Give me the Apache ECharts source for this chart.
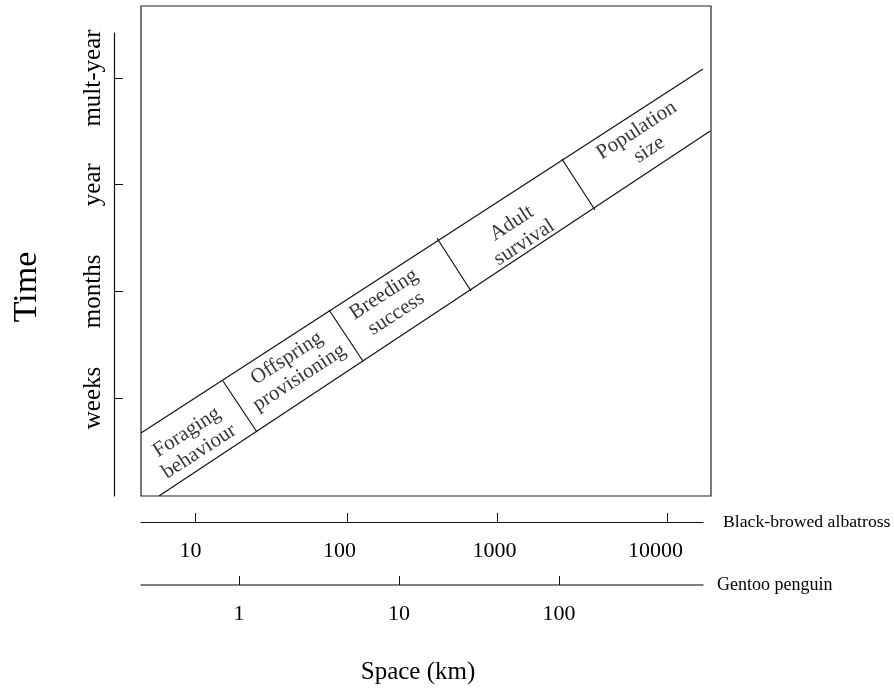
<!DOCTYPE html>
<html>
<head>
<meta charset="utf-8">
<script src="https://cdn.jsdelivr.net/npm/echarts@6/dist/echarts.min.js"></script>
<style>
  html, body { margin: 0; padding: 0; background: #fff; }
  #chart { width: 894px; height: 690px; }
</style>
</head>
<body>
<div id="chart"></div>
<script>
// Albatross space scale: log10(km), Gentoo space scale: log10(km), time: ordinal level
var albatrossLabels = ["10", "100", "1000", "10000"];
var albatrossLabelPos = [0.97, 1.95, 2.97, 4.03];
var albatrossTickPos = [1, 2, 2.99, 4.11];

var gentooLabels = ["1", "10", "100"];
var gentooPos = [0, 1, 2];

var timeLabels = ["weeks", "months", "year", "mult-year"];
var timePos = [1, 2, 3, 4];

// band edges, in (albatross log10 km, time level)
var upperEdge = [[0.645, 0.672], [4.342, 4.084]];
var lowerEdge = [[0.763, 0.081], [4.39, 3.503]];
var dividers = [
  [[1.184, 1.159], [1.408, 0.681]],
  [[1.882, 1.825], [2.105, 1.347]],
  [[2.592, 2.5], [2.816, 2.003]],
  [[3.414, 3.241], [3.632, 2.762]]
];

var bandNames = [
  "Foraging\nbehaviour",
  "Offspring\nprovisioning",
  "Breeding\nsuccess",
  "Adult\nsurvival",
  "Population\nsize"
];
var bandCenters = [
  [0.987, 0.588],
  [1.645, 1.281],
  [2.283, 1.881],
  [3.125, 2.547],
  [3.947, 3.419]
];

var FONT = "Liberation Serif";
var LINE = "#111";

var myChart = echarts.init(document.getElementById("chart"));

var edgeSeries = [upperEdge, lowerEdge].concat(dividers).map(function (pts) {
  return {
    type: "line",
    xAxisIndex: 0,
    yAxisIndex: 0,
    data: pts,
    symbol: "none",
    silent: true,
    lineStyle: { color: LINE, width: 1.2 }
  };
});

var option = {
  animation: false,
  backgroundColor: "#fff",
  grid: [
    // main box
    { left: 141, top: 6, right: 183, bottom: 194, show: true, borderColor: "#222", borderWidth: 1.2, outerBoundsMode: "none" },
    // albatross axis
    { left: 141, right: 191, top: 500, height: 22, outerBoundsMode: "none" },
    // gentoo axis
    { left: 141, right: 191, top: 560, height: 25, outerBoundsMode: "none" },
    // time axis
    { left: 114, top: 33, width: 10, bottom: 194, outerBoundsMode: "none" }
  ],
  xAxis: [
    { gridIndex: 0, type: "value", min: 0.645, max: 4.395, show: false },
    {
      gridIndex: 1, type: "value", min: 0.645, max: 4.342, position: "bottom",
      splitLine: { show: false },
      axisLine: { lineStyle: { color: LINE, width: 1.2 } },
      axisTick: { inside: true, length: 9, customValues: albatrossTickPos, lineStyle: { color: LINE } },
      axisLabel: {
        customValues: albatrossLabelPos, margin: 18,
        fontFamily: FONT, fontSize: 22, color: "#000",
        formatter: function (v) { return albatrossLabels[albatrossLabelPos.indexOf(v)]; }
      },
      name: "Black-browed albatross", nameLocation: "end", nameGap: 20,
      nameTextStyle: { fontFamily: FONT, fontSize: 17.7, color: "#000" }
    },
    {
      gridIndex: 2, type: "value", min: -0.6125, max: 2.9, position: "bottom",
      splitLine: { show: false },
      axisLine: { lineStyle: { color: "#555", width: 1.5 } },
      axisTick: { inside: true, length: 9, customValues: gentooPos, lineStyle: { color: LINE } },
      axisLabel: {
        customValues: gentooPos, margin: 18,
        fontFamily: FONT, fontSize: 22, color: "#000",
        formatter: function (v) { return gentooLabels[gentooPos.indexOf(v)]; }
      },
      name: "Gentoo penguin", nameLocation: "end", nameGap: 14,
      nameTextStyle: { fontFamily: FONT, fontSize: 18, color: "#000" }
    },
    { gridIndex: 3, type: "value", show: false }
  ],
  yAxis: [
    { gridIndex: 0, type: "value", min: 0.081, max: 4.675, show: false },
    { gridIndex: 1, type: "value", show: false },
    { gridIndex: 2, type: "value", show: false },
    {
      gridIndex: 3, type: "value", min: 0.081, max: 4.422, position: "left",
      splitLine: { show: false },
      axisLine: { lineStyle: { color: LINE, width: 1.2 } },
      axisTick: { inside: true, length: 9, customValues: timePos, lineStyle: { color: LINE } },
      axisLabel: {
        customValues: timePos, rotate: 90, margin: 8,
        fontFamily: FONT, fontSize: 25, color: "#000",
        formatter: function (v) { return timeLabels[timePos.indexOf(v)]; }
      }
    }
  ],
  graphic: [
    {
      type: "text", x: 27, y: 287, rotation: Math.PI / 2,
      style: { text: "Time", fontFamily: FONT, fontSize: 34, fill: "#000", align: "center", verticalAlign: "middle" }
    },
    {
      type: "text", x: 418, y: 672,
      style: { text: "Space (km)", fontFamily: FONT, fontSize: 25, fill: "#000", align: "center", verticalAlign: "middle" }
    }
  ],
  series: edgeSeries.concat([
    {
      type: "scatter",
      xAxisIndex: 0,
      yAxisIndex: 0,
      symbolSize: 0,
      silent: true,
      data: bandNames.map(function (n, i) {
        return { name: n, value: bandCenters[i] };
      }),
      label: {
        show: true,
        position: "inside",
        rotate: 33,
        formatter: function (p) { return p.name; },
        fontFamily: FONT,
        fontSize: 21,
        lineHeight: 23,
        color: "#000",
        align: "center",
        verticalAlign: "middle"
      }
    }
  ])
};

if (option && typeof option === "object") {
  myChart.setOption(option);
}
</script>
</body>
</html>
